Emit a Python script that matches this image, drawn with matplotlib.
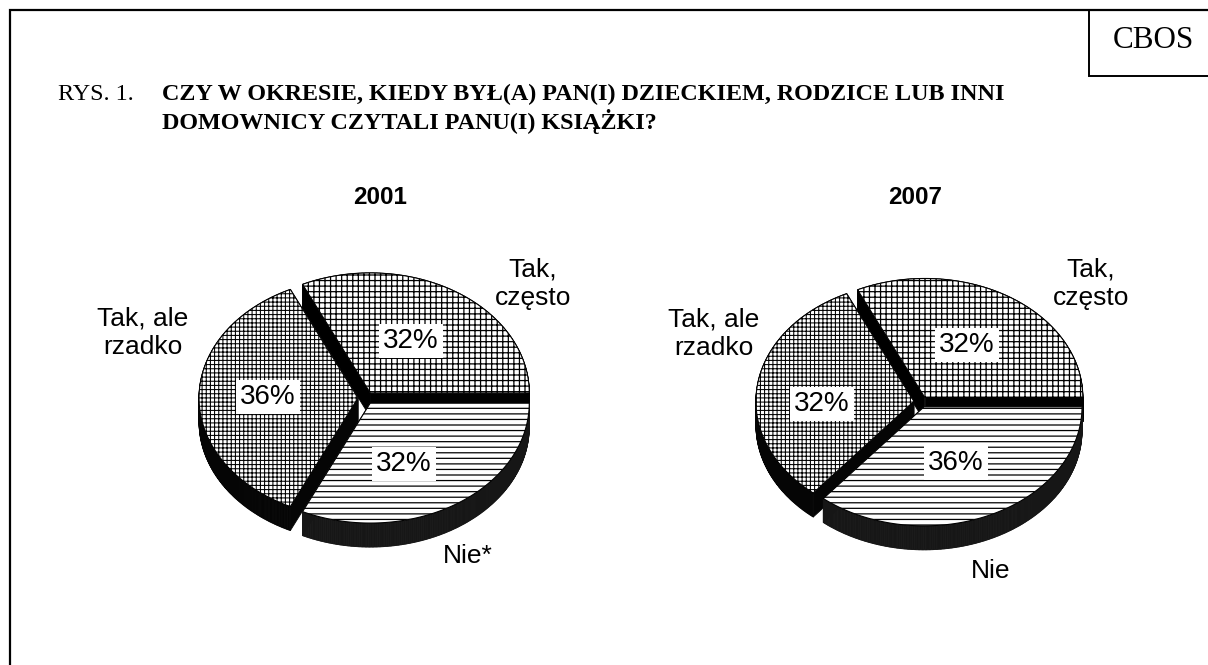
import numpy as np
import matplotlib
matplotlib.use("Agg")
import matplotlib.pyplot as plt
from matplotlib.patches import Polygon
from matplotlib.collections import PolyCollection
from matplotlib.transforms import Affine2D

W,H=1208,665

# data, order: Tak czesto, Tak ale rzadko, Nie
shares_2001=[32,36,32]
shares_2007=[32,32,36]
pct_2001=["32%","36%","32%"]
pct_2007=["32%","32%","36%"]
years=["2001","2007"]
labels_2001=["Tak,\nczęsto","Tak, ale\nrzadko","Nie*"]
labels_2007=["Tak,\nczęsto","Tak, ale\nrzadko","Nie"]

# patterns per slice
hatches=["+++","++++","---"]
hatch_widths=[0.9,0.75,0.9]
rim_colors=["#000000","#050505","#161616"]

SANS="Liberation Sans"
SERIF="Liberation Serif"

def slice_points(a0,a1,explode):
    mid=np.radians((a0+a1)/2)
    t=np.radians(np.linspace(a0,a1,int(a1-a0)*2+2))
    x=np.r_[0,np.cos(t)]+explode*np.cos(mid)
    y=np.r_[0,np.sin(t)]+explode*np.sin(mid)
    return np.c_[x,y]

def draw_pie(ax,shares,cx,cy,a,b,depth,explode):
    tr=Affine2D().scale(a,-b).translate(cx,cy)+ax.transData
    down=depth/b
    edges=np.cumsum([0]+list(shares))*360/sum(shares)
    for i in range(len(shares)):
        pts=slice_points(edges[i],edges[i+1],explode)
        # side walls: every edge of the slice pushed down by the depth
        closed=np.r_[pts,pts[:1]]
        low=closed-[0,down]
        quads=[[closed[k],closed[k+1],low[k+1],low[k]] for k in range(len(pts))]
        ax.add_collection(PolyCollection(quads,transform=tr,facecolors=rim_colors[i],edgecolors=rim_colors[i],linewidths=0.6,zorder=2+i))
        face=Polygon(pts,closed=True,transform=tr,facecolor="white",edgecolor="black",hatch=hatches[i],linewidth=0.8,zorder=2+i)
        face.set_hatch_linewidth(hatch_widths[i])
        ax.add_patch(face)

fig=plt.figure(figsize=(W/100,H/100),dpi=100)
ax=fig.add_axes([0,0,1,1])
ax.set_xlim(0,W)
ax.set_ylim(H,0)
ax.axis("off")

# frame, open at the bottom and right
ax.plot([10,10,W],[H,10,10],color="black",lw=1.6,solid_joinstyle="miter")
ax.plot([1089,1089,W],[10,75.5,75.5],color="black",lw=1.4,solid_joinstyle="miter")
ax.text(1153,41,"CBOS",family=SERIF,fontsize=22.4,ha="center",va="center")

ax.text(58,100,"RYS. 1.",family=SERIF,fontsize=17.4,ha="left",va="baseline")
ax.text(162,100,"CZY W OKRESIE, KIEDY BYŁ(A) PAN(I) DZIECKIEM, RODZICE LUB INNI",family=SERIF,fontsize=17.4,weight="bold",ha="left",va="baseline")
ax.text(162,129,"DOMOWNICY CZYTALI PANU(I) KSIĄŻKI?",family=SERIF,fontsize=17.4,weight="bold",ha="left",va="baseline")

draw_pie(ax,shares_2001,366,398,159,120,24,0.05)
draw_pie(ax,shares_2007,921,402,158,119,24,0.045)

ax.text(380,198,years[0],family=SANS,fontsize=17.5,weight="bold",ha="center",va="center")
ax.text(915,197,years[1],family=SANS,fontsize=17.5,weight="bold",ha="center",va="center")

box=dict(facecolor="white",edgecolor="none",pad=3)
pct_pos_2001=[(411,341),(268,397),(404,464)]
pct_pos_2007=[(967,345),(822,404),(956,463)]
for txt,(x,y) in zip(pct_2001,pct_pos_2001):
    ax.text(x,y,txt,family=SANS,fontsize=20,ha="center",va="center",bbox=box,zorder=10)
for txt,(x,y) in zip(pct_2007,pct_pos_2007):
    ax.text(x,y,txt,family=SANS,fontsize=20,ha="center",va="center",bbox=box,zorder=10)

label_pos_2001=[(533,284),(143,333),(468,556)]
label_pos_2007=[(1091,284),(714,334),(991,571)]
for txt,(x,y) in zip(labels_2001,label_pos_2001):
    ax.text(x,y,txt,family=SANS,fontsize=19,ha="center",va="center",linespacing=1.25)
for txt,(x,y) in zip(labels_2007,label_pos_2007):
    ax.text(x,y,txt,family=SANS,fontsize=19,ha="center",va="center",linespacing=1.25)

fig.savefig("out.png",dpi=100)
